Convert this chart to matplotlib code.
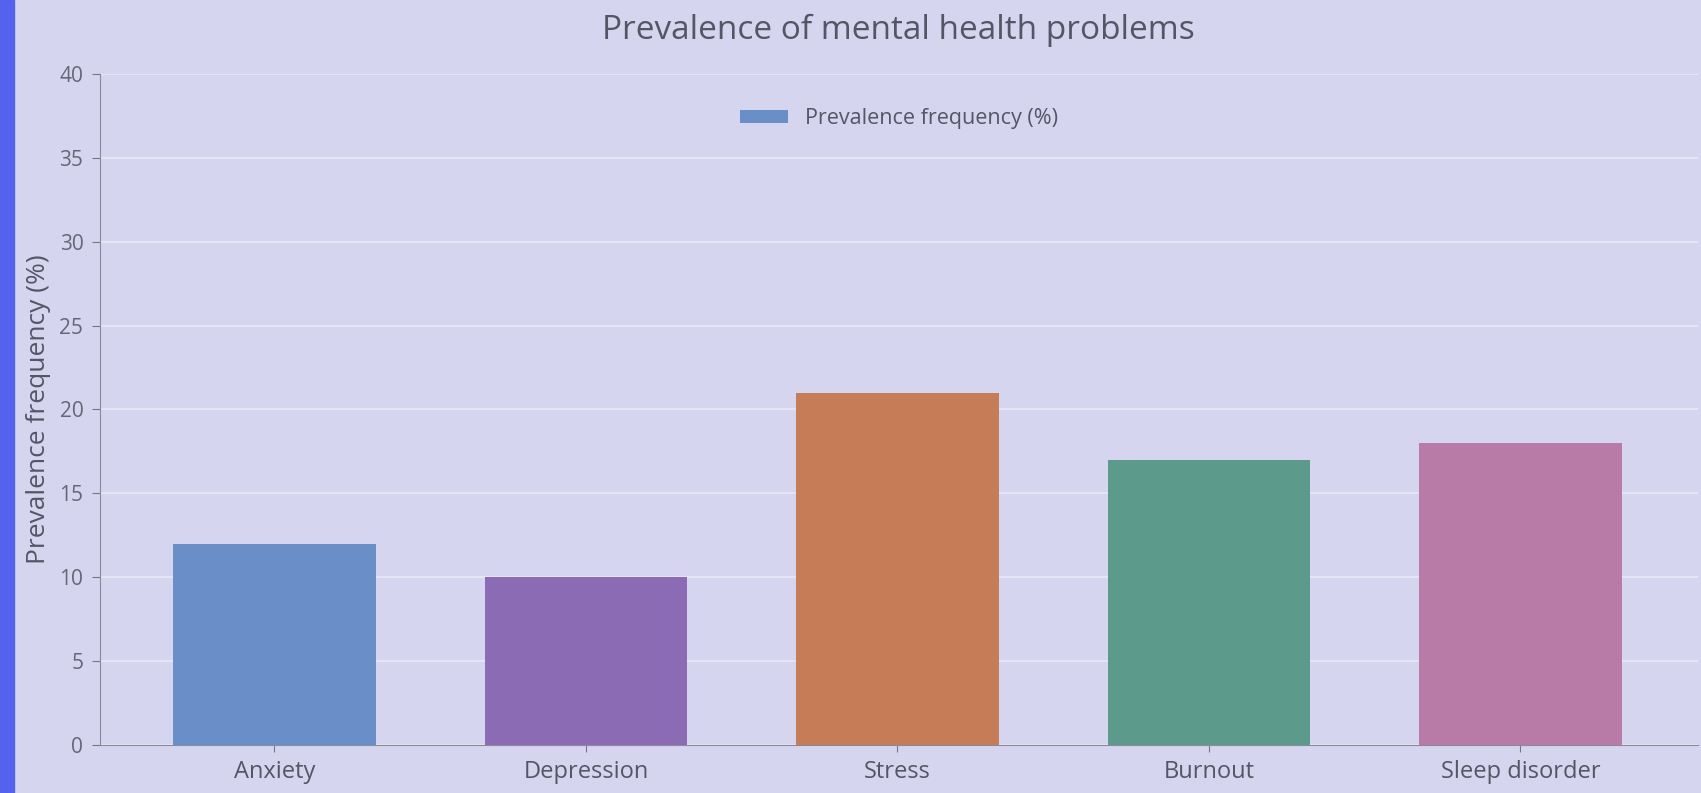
import numpy as np
import matplotlib
matplotlib.use('Agg')
import matplotlib.pyplot as plt
from matplotlib.patches import Rectangle

plt.rcParams['font.family'] = ['Open Sans', 'DejaVu Sans']

# data
categories = ['Anxiety', 'Depression', 'Stress', 'Burnout', 'Sleep disorder']
prevalence = [12, 10, 21, 17, 18]
bar_colors = ['#6a8ec8', '#8c6bb5', '#c77c58', '#5c9b8c', '#b87ba8']
yticks = [0, 5, 10, 15, 20, 25, 30, 35, 40]

bg = '#d6d5f0'
text_col = '#555566'

fig = plt.figure(figsize=(17.01, 7.93), dpi=100, facecolor=bg)
ax = fig.add_axes([100/1701, 48/793, (1698-100)/1701, (745-74)/793])
ax.set_facecolor(bg)

# blue strip on the left edge
fig.patches.append(Rectangle((0, 0), 14/1701, 1, transform=fig.transFigure,
                             color='#5462ee', zorder=0))

x = np.arange(len(categories))
bars = ax.bar(x, prevalence, width=0.65, color=bar_colors, zorder=3)
# legend uses the first bar's color only
ax.legend([bars[0]], ['Prevalence frequency (%)'], loc='upper center',
          frameon=False, fontsize=15.5, labelcolor=text_col,
          handlelength=2.2, handleheight=0.6, bbox_to_anchor=(0.5, 0.978))

ax.set_xlim(-0.56, 4.57)
ax.set_ylim(0, 40)
ax.set_yticks(yticks)
ax.set_xticks(x)
ax.set_xticklabels(categories, fontsize=17, color=text_col)
ax.tick_params(axis='y', labelsize=15, labelcolor='#666677', color='#777788',
               length=6, pad=6)
ax.tick_params(axis='x', color='#777788', length=5, pad=6)
ax.yaxis.grid(True, color='#e8e8f8', linewidth=1.2, zorder=0)
ax.set_axisbelow(True)

for s in ['top', 'right']:
    ax.spines[s].set_visible(False)
for s in ['left', 'bottom']:
    ax.spines[s].set_color('#8a8a9a')

ax.set_ylabel('Prevalence frequency (%)', fontsize=19, color=text_col, labelpad=6)
fig.text(898/1701, 1 - 30/793, 'Prevalence of mental health problems',
         ha='center', va='center', fontsize=24, color=text_col)

fig.savefig('out.png', dpi=100, facecolor=bg)
